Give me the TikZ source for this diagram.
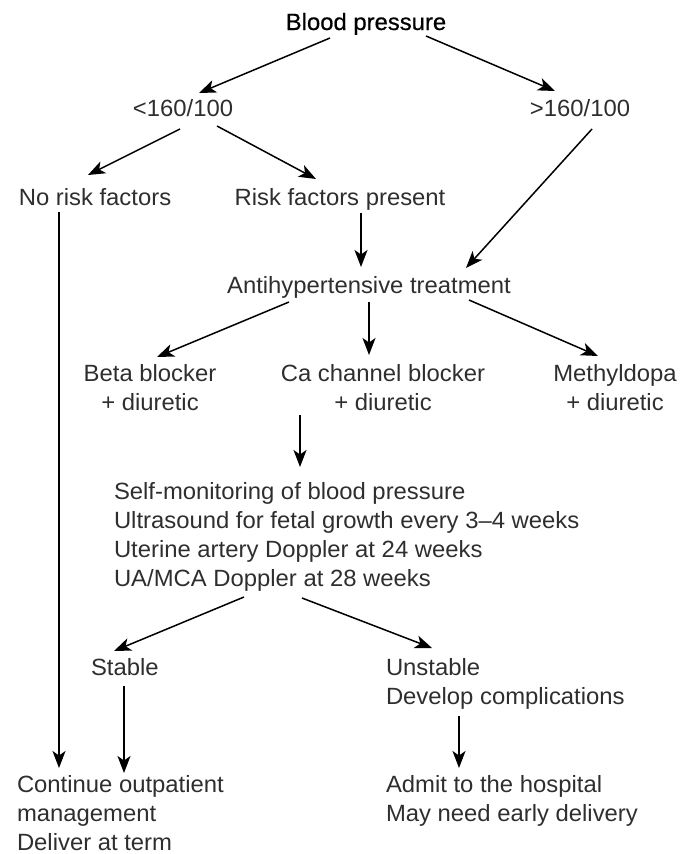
\documentclass[tikz,border=0pt]{standalone}
\usepackage{fontspec}
\setmainfont{Liberation Sans}[FakeStretch=1.015]
\usetikzlibrary{arrows.meta,calc}

\begin{document}
\begin{tikzpicture}[x=1pt,y=-1pt,
  lbl/.style={inner sep=0pt,outer sep=0pt,text=black!82,
    font=\fontsize{23.5}{29}\selectfont},
  head/.style={lbl,text=black,font=\fontsize{23.5}{29}\selectfont\addfontfeature{FakeBold=0.6}},
  arr/.style={line width=1.5pt,draw=black,
    -{Stealth[length=17pt,width=13pt,inset=4.5pt]}}]

% page frame
\useasboundingbox (0,0) rectangle (682,854);

% labels (multi-line nodes are placed by the baseline of their last line)
\node[head,anchor=base] (bp) at (366,30) {Blood pressure};
\node[lbl,anchor=base] (lo) at (183,116) {<160/100};
\node[lbl,anchor=base] (hi) at (580,116) {>160/100};
\node[lbl,anchor=base] (nr) at (95,205) {No risk factors};
\node[lbl,anchor=base] (rp) at (340,205) {Risk factors present};
\node[lbl,anchor=base] (at) at (369,293) {Antihypertensive treatment};
\node[lbl,anchor=base,align=center] (bb) at (150,410) {Beta blocker\\+ diuretic};
\node[lbl,anchor=base,align=center] (cc) at (383,410) {Ca channel blocker\\+ diuretic};
\node[lbl,anchor=base,align=center] (md) at (615,410) {Methyldopa\\+ diuretic};
\node[lbl,anchor=base west,align=left] (mon) at (114,586)
  {Self-monitoring of blood pressure\\
   Ultrasound for fetal growth every 3--4 weeks\\
   Uterine artery Doppler at 24 weeks\\
   UA/MCA Doppler at 28 weeks};
\node[lbl,anchor=base west] (st) at (91,675) {Stable};
\node[lbl,anchor=base west,align=left] (un) at (386,704) {Unstable\\Develop complications};
\node[lbl,anchor=base west,align=left] (co) at (17,850)
  {Continue outpatient\\management\\Deliver at term};
\node[lbl,anchor=base west,align=left] (ad) at (386,821)
  {Admit to the hospital\\May need early delivery};

% connectors
\draw[arr] ($(bp.base)+(-36,8)$) -- ($(lo.base)+(16,-23)$);
\draw[arr] ($(bp.base)+(60,6)$) -- ($(hi.base)+(-25,-25)$);
\draw[arr] ($(lo.base)+(-3,13)$) -- ($(nr.base)+(-7,-30)$);
\draw[arr] ($(lo.base)+(34,10)$) -- ($(rp.base)+(-24,-26)$);
\draw[arr] ($(rp.base)+(21,8)$) -- ($(at.base)+(-8,-26)$);
\draw[arr] ($(hi.base)+(12,13)$) -- ($(at.base)+(97,-25)$);
\draw[arr] ($(nr.base)+(-36,7)$) -- ($(co.base west)+(42,-82)$);
\draw[arr] ($(at.base)+(-80,9)$) -- ($(bb.base)+(7,-53)$);
\draw[arr] ($(at.base)+(0,9)$) -- ($(cc.base)+(-14,-55)$);
\draw[arr] ($(at.base)+(100,7)$) -- ($(md.base)+(-17,-54)$);
\draw[arr] ($(cc.base)+(-83,5)$) -- ($(mon.base west)+(186,-119)$);
\draw[arr] ($(mon.base west)+(130,11)$) -- ($(st.base west)+(23,-24)$);
\draw[arr] ($(mon.base west)+(188,12)$) -- ($(un.base west)+(46,-56)$);
\draw[arr] ($(st.base west)+(33,11)$) -- ($(co.base west)+(107,-77)$);
\draw[arr] ($(un.base west)+(73,12)$) -- ($(ad.base west)+(73,-53)$);
\end{tikzpicture}
\end{document}
